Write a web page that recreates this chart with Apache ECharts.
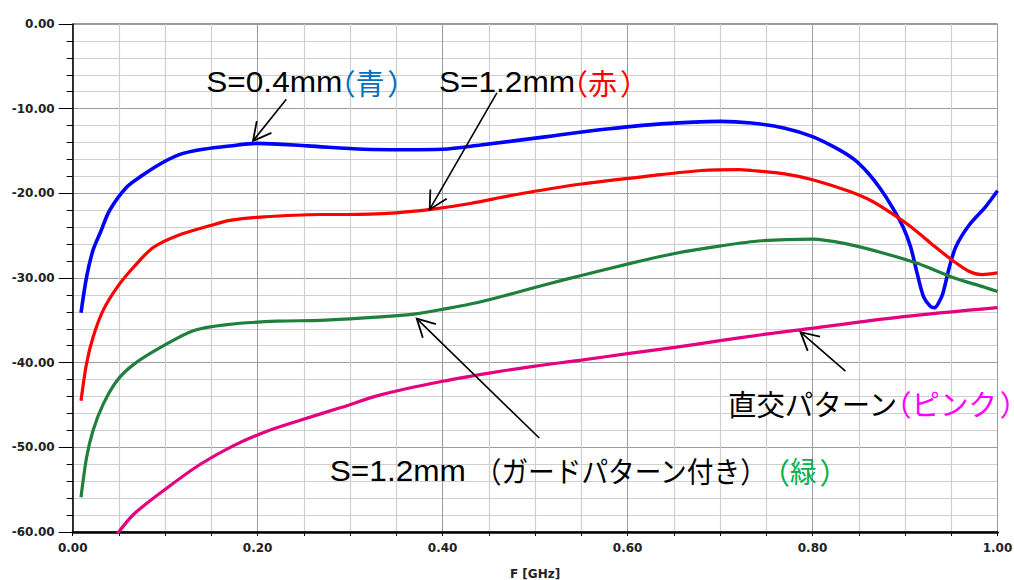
<!DOCTYPE html>
<html><head><meta charset="utf-8">
<script src="https://cdn.jsdelivr.net/npm/echarts@6/dist/echarts.min.js"></script>
<style>html,body{margin:0;padding:0;background:#fff}#c{width:1014px;height:580px}</style>
</head><body><div id="c"></div>
<script>
// ---- data (F [GHz], dB) ----
const blueData = [[0.009,-34.1],[0.015,-29.9],[0.022,-26.7],[0.030,-24.6],[0.040,-22.0],[0.058,-19.3],[0.075,-17.9],[0.095,-16.5],[0.116,-15.4],[0.141,-14.8],[0.170,-14.4],[0.200,-14.1],[0.254,-14.4],[0.315,-14.8],[0.360,-14.85],[0.400,-14.8],[0.441,-14.3],[0.513,-13.3],[0.570,-12.5],[0.636,-11.8],[0.700,-11.5],[0.734,-11.7],[0.770,-12.3],[0.800,-13.3],[0.828,-14.8],[0.845,-16.0],[0.860,-17.6],[0.873,-19.4],[0.886,-21.6],[0.898,-24.0],[0.906,-26.3],[0.913,-29.4],[0.920,-32.2],[0.927,-33.3],[0.932,-33.5],[0.937,-32.8],[0.941,-31.8],[0.948,-28.7],[0.955,-26.3],[0.969,-23.8],[0.987,-21.6],[1.000,-19.7]];
const redData = [[0.009,-44.5],[0.015,-40.1],[0.022,-37.0],[0.033,-33.8],[0.048,-31.1],[0.066,-28.7],[0.087,-26.4],[0.113,-25.0],[0.149,-23.8],[0.170,-23.2],[0.203,-22.8],[0.268,-22.5],[0.297,-22.5],[0.350,-22.3],[0.387,-21.9],[0.430,-21.2],[0.477,-20.2],[0.550,-18.9],[0.636,-17.8],[0.680,-17.3],[0.720,-17.2],[0.734,-17.3],[0.770,-17.7],[0.800,-18.4],[0.838,-19.7],[0.864,-20.9],[0.886,-22.4],[0.907,-24.0],[0.929,-26.0],[0.951,-27.9],[0.969,-29.2],[0.983,-29.6],[1.000,-29.4]];
const greenData = [[0.009,-55.9],[0.015,-51.2],[0.022,-48.0],[0.033,-44.9],[0.048,-42.1],[0.066,-40.2],[0.095,-38.2],[0.131,-36.2],[0.167,-35.5],[0.221,-35.1],[0.268,-35.0],[0.333,-34.6],[0.373,-34.2],[0.400,-33.7],[0.438,-32.9],[0.477,-31.8],[0.514,-30.7],[0.550,-29.7],[0.602,-28.3],[0.651,-27.1],[0.701,-26.2],[0.745,-25.6],[0.800,-25.4],[0.838,-26.0],[0.878,-27.1],[0.914,-28.3],[0.951,-29.9],[0.986,-31.1],[1.000,-31.6]];
const pinkData = [[0.047,-60.4],[0.066,-57.9],[0.102,-54.8],[0.138,-52.0],[0.174,-49.8],[0.210,-48.1],[0.246,-46.8],[0.290,-45.3],[0.333,-43.8],[0.400,-42.2],[0.452,-41.2],[0.500,-40.4],[0.550,-39.7],[0.602,-38.9],[0.651,-38.2],[0.700,-37.4],[0.745,-36.7],[0.788,-36.1],[0.896,-34.6],[1.000,-33.5]];

// annotation arrows: [tailF, tailV, headF, headV]
const arrowData = [[0.231,-8.9,0.195,-13.8],[0.4587,-8.13,0.386,-21.9],[0.5045,-48.9,0.372,-34.8],[0.8356,-41.0,0.787,-36.4]];
// annotation labels: anchor (left, vertical middle) in data coords
const labelPos = [[0.1444,-6.8],[0.396,-6.8],[0.7086,-44.8],[0.278,-52.76]];
const labelTexts = [['S=0.4mm','（青）'],['S=1.2mm','（赤）'],['直交パターン','（ピンク）'],['S=1.2mm （ガードパターン付き）',' （緑）']];
const labelColors = [['#000000','#0070C0'],['#000000','#FF0000'],['#000000','#FF00FF'],['#000000','#00B050']];
const labelCjkScale = [1, 1, 0.98, 0.92];

const yTicks = [-60,-50,-40,-30,-20,-10,0];

// ---- label rendering helpers ----
const FS = 29, LAT_SCALE = 1.09;
const LAT_FAM = '"Liberation Sans", Arial, sans-serif';
const CJK_FAM = '"Noto Sans CJK JP", sans-serif';
const mctx = document.createElement('canvas').getContext('2d');
function runs(str, narrow){
  const out=[];
  for (const ch of str){
    const c = ch.codePointAt(0);
    let k = c<128 ? 'lat' : 'cjk';
    if (narrow && ch==='（') k='lp';
    if (narrow && ch==='）') k='rp';
    const last = out[out.length-1];
    if (last && last.k===k && k!=='lp' && k!=='rp') last.t += ch; else out.push({t:ch,k:k});
  }
  return out;
}
function txt(x, y, t, fam, color, sx){
  return {type:'text', x:x, y:y, scaleX:sx, style:{text:t, x:0, y:0, fontSize:FS, fontFamily:fam, fill:color, align:'left', verticalAlign:'middle'}};
}
function buildLabel(x, y, segs, cols, cjkScale){
  const children=[]; let cx=x;
  segs.forEach((s,i)=>{
    // coloured trailing segments use narrow (proportional-looking) brackets
    runs(s, i>0 || !/[（）].*[ぁ-んァ-ヶ一-龥]/.test(s)).forEach(r=>{
      const color = cols[i];
      if (r.k==='lat'){
        mctx.font = FS+'px '+LAT_FAM;
        children.push(txt(cx, y, r.t, LAT_FAM, color, LAT_SCALE));
        cx += mctx.measureText(r.t).width*LAT_SCALE;
      } else if (r.k==='cjk'){
        mctx.font = FS+'px '+CJK_FAM;
        children.push(txt(cx, y, r.t, CJK_FAM, color, cjkScale));
        cx += mctx.measureText(r.t).width*cjkScale;
      } else if (r.k==='lp'){
        children.push(txt(cx-0.55*FS, y, r.t, CJK_FAM, color, 1));
        cx += 0.45*FS;
      } else {
        children.push(txt(cx+0.1*FS, y, r.t, CJK_FAM, color, 1));
        cx += 0.55*FS;
      }
    });
  });
  return {type:'group', children:children};
}

const axisFont = {fontFamily:'"DejaVu Sans", Verdana, sans-serif', fontWeight:'bold', fontSize:12, color:'#222'};
const chart = echarts.init(document.getElementById('c'), null, {renderer:'svg'});
chart.setOption({
  animation:false,
  backgroundColor:'#fff',
  grid:{left:72.7, right:16.5, top:24, bottom:48, outerBoundsMode:'none', containLabel:false, show:true, borderColor:'#333', borderWidth:1, backgroundColor:'transparent'},
  xAxis:{
    type:'value', min:0, max:1, interval:0.2,
    name:'F [GHz]', nameLocation:'middle', nameGap:36,
    nameTextStyle:Object.assign({}, axisFont),
    axisLine:{show:true, onZero:false, lineStyle:{color:'#000', width:2.5}},
    axisTick:{show:true, length:4, lineStyle:{color:'#000'}},
    minorTick:{show:true, splitNumber:4, length:4, lineStyle:{color:'#000'}},
    axisLabel:Object.assign({formatter:v=>v.toFixed(2), margin:10}, axisFont),
    splitLine:{show:true, lineStyle:{color:'#9c9c9c', width:1}},
    minorSplitLine:{show:true, lineStyle:{color:'#cfcfcf', width:1.2}}
  },
  yAxis:{
    type:'value', min:yTicks[0], max:yTicks[yTicks.length-1], interval:10,
    axisLine:{show:true, onZero:false, lineStyle:{color:'#000', width:1.5}},
    axisTick:{show:true, length:14, lineStyle:{color:'#000'}},
    minorTick:{show:true, splitNumber:5, length:6, lineStyle:{color:'#000'}},
    axisLabel:Object.assign({formatter:v=>v.toFixed(2), margin:18}, axisFont),
    splitLine:{show:true, lineStyle:{color:'#9c9c9c', width:1}},
    minorSplitLine:{show:true, lineStyle:{color:'#cfcfcf', width:1.2}}
  },
  series:[
    {type:'line', data:blueData, showSymbol:false, smooth:0.3, lineStyle:{color:'#0000FF', width:3.6}, itemStyle:{color:'#0000FF'}, z:3},
    {type:'line', data:redData, showSymbol:false, smooth:0.3, lineStyle:{color:'#FF0000', width:3.2}, itemStyle:{color:'#FF0000'}, z:4},
    {type:'line', data:greenData, showSymbol:false, smooth:0.3, lineStyle:{color:'#1F7F3D', width:3.2}, itemStyle:{color:'#1F7F3D'}, z:4},
    {type:'line', data:pinkData, showSymbol:false, smooth:0.3, lineStyle:{color:'#E4007F', width:3.2}, itemStyle:{color:'#E4007F'}, z:4},
    {type:'custom', coordinateSystem:'cartesian2d', data:arrowData, encode:{x:[0,2], y:[1,3]}, clip:false, z:6,
      renderItem:function(params, api){
        const t = api.coord([api.value(0), api.value(1)]);
        const h = api.coord([api.value(2), api.value(3)]);
        const ang = Math.atan2(t[1]-h[1], t[0]-h[0]);
        const L = 20, a = 28*Math.PI/180;
        const w1 = [h[0]+L*Math.cos(ang+a), h[1]+L*Math.sin(ang+a)];
        const w2 = [h[0]+L*Math.cos(ang-a), h[1]+L*Math.sin(ang-a)];
        return {type:'group', children:[
          {type:'line', shape:{x1:t[0], y1:t[1], x2:h[0], y2:h[1]}, style:{stroke:'#000', lineWidth:1.6}},
          {type:'polyline', shape:{points:[w1, h, w2]}, style:{stroke:'#000', fill:null, lineWidth:1.8}}
        ]};
      }
    },
    {type:'custom', coordinateSystem:'cartesian2d', data:labelPos.map((p,i)=>[p[0],p[1],i]), encode:{x:0, y:1}, clip:false, z:7,
      renderItem:function(params, api){
        const p = api.coord([api.value(0), api.value(1)]);
        const i = api.value(2);
        return buildLabel(p[0], p[1], labelTexts[i], labelColors[i], labelCjkScale[i]);
      }
    }
  ]
});
</script></body></html>
